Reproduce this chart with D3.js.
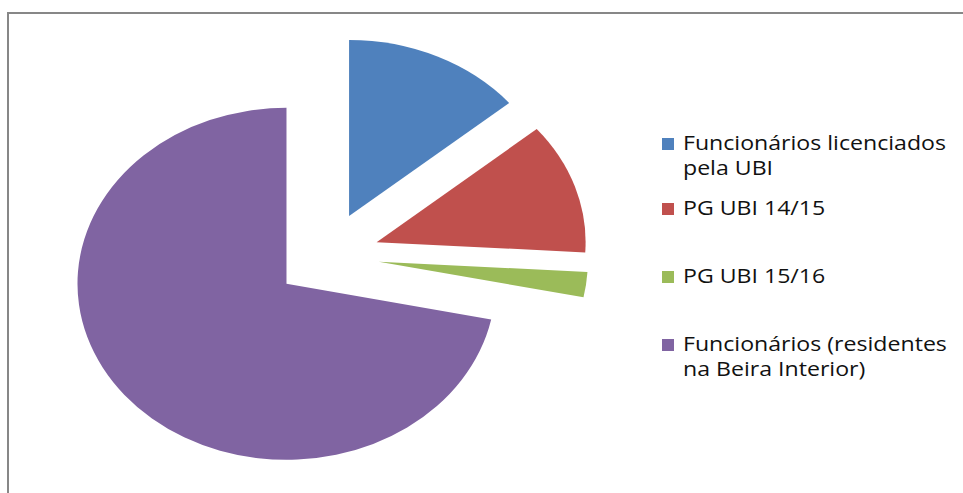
<!DOCTYPE html>
<html>
<head>
<meta charset="utf-8">
<script src="https://cdn.jsdelivr.net/npm/d3@7"></script>
<style>
	body { margin: 0; background: #fff; }
	svg { display: block; }
</style>
</head>
<body>
<div class="plot"></div>
<script>
//Data
const categories = ['Funcionários licenciados pela UBI', 'PG UBI 14/15', 'PG UBI 15/16', 'Funcionários (residentes na Beira Interior)'];
const values = [30, 26, 5, 155];
const legendLines = [['Funcionários licenciados', 'pela UBI'], ['PG UBI 14/15'], ['PG UBI 15/16'], ['Funcionários (residentes', 'na Beira Interior)']];
const colors = ['#4F81BD', '#C0504D', '#9BBB59', '#8064A2'];

//Canvas
const w = 963, h = 493;
const svg = d3.select('.plot').append('svg').attr('width', w).attr('height', h);

//Chart border (only left and top edge visible)
svg.append('rect')
	.attr('x', 8).attr('y', 13)
	.attr('width', w + 20).attr('height', h + 20)
	.style('fill', 'none')
	.style('stroke', '#878787')
	.style('stroke-width', 2);

//Pie, slightly stretched horizontally, every slice exploded
const ry = 176, rx = 209, explode = 0.25;
const pie = d3.pie().sort(null).value(d => d)(values);
const arc = d3.arc().innerRadius(0).outerRadius(ry);

const pieG = svg.append('g')
	.attr('transform', `translate(327,256) scale(${rx / ry},1)`);

pieG.selectAll('.slice')
	.data(pie)
	.enter()
	.append('path')
	.attr('class', 'slice')
	.attr('d', arc)
	.attr('transform', d => {
		const mid = (d.startAngle + d.endAngle) / 2;
		const off = explode * ry;
		return `translate(${off * Math.sin(mid)},${-off * Math.cos(mid)})`;
	})
	.style('fill', (d, i) => colors[i]);

//Legend
const baselines = [150, 215, 283, 351];
const lineGap = 25;
const legend = svg.append('g').attr('class', 'legend');

const items = legend.selectAll('.item')
	.data(legendLines)
	.enter()
	.append('g')
	.attr('class', 'item');

items.append('rect')
	.attr('x', 662)
	.attr('y', (d, i) => baselines[i] - 12)
	.attr('width', 12).attr('height', 12)
	.style('fill', (d, i) => colors[i]);

const texts = items.append('text')
	.attr('y', (d, i) => baselines[i])
	.style('font-family', '"Open Sans", sans-serif')
	.style('font-size', '20px')
	.style('fill', '#111');

texts.selectAll('tspan')
	.data(d => d)
	.enter()
	.append('tspan')
	.attr('x', 0)
	.attr('dy', (d, i) => i === 0 ? 0 : lineGap)
	.text(d => d);

//Fit width of the first line to the reference (about 263px)
const firstW = texts.select('tspan').node().getComputedTextLength();
const sx = 263 / firstW;
texts.attr('transform', `translate(683,0) scale(${sx},1)`);
</script>
</body>
</html>
